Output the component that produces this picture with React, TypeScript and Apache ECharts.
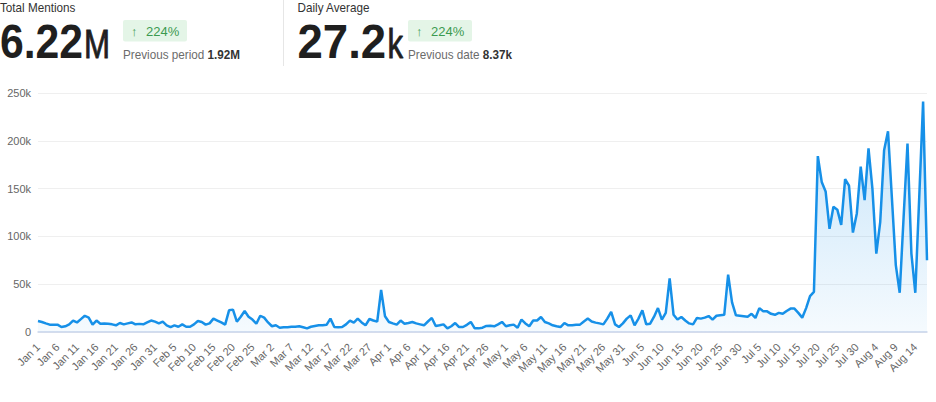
import React, { useEffect, useRef } from "react";
import * as echarts from "echarts";

// Daily mentions, Jan 1 → Aug 17
const mentions: number[] = [
  11500, 10500, 9000, 7700, 7500, 7700, 5200, 6000, 8000, 12000,
  10000, 13500, 17000, 15000, 7700, 12000, 8700, 9000, 8700, 8000,
  7000, 9400, 8000, 9000, 10000, 8000, 8500, 8000, 10000, 12000,
  10800, 9000, 10800, 7000, 5200, 7000, 5500, 8000, 5500, 5500,
  8000, 11500, 10500, 7700, 9000, 14000, 12000, 10000, 7700, 22700,
  23400, 10800, 16000, 22000, 16000, 13000, 8700, 17000, 15000, 10000,
  6000, 7000, 4500, 5000, 5000, 5500, 5500, 6000, 5000, 3800,
  5500, 6300, 7000, 7000, 7500, 14000, 5200, 5000, 5200, 8000,
  12000, 9800, 14000, 10000, 7000, 13600, 12000, 10800, 44000, 16400,
  10500, 9000, 7700, 12000, 8700, 9500, 10500, 9000, 8000, 7000,
  11000, 14700, 6300, 7000, 8000, 3800, 6000, 9400, 5200, 5200,
  7500, 10500, 3800, 3800, 4500, 6300, 6500, 6000, 8000, 10500,
  6000, 7000, 7700, 4500, 13000, 9000, 6000, 12000, 12000, 15700,
  10500, 9000, 7000, 6000, 5200, 9400, 7000, 7000, 7500, 7700,
  11000, 14000, 11000, 9800, 9000, 8000, 14000, 21000, 8000, 5200,
  9000, 14000, 17400, 7000, 14000, 22700, 8000, 8700, 16000, 25000,
  13000, 20000, 56000, 18000, 13000, 15700, 12000, 9000, 8000, 14700,
  14000, 15000, 16700, 13000, 17000, 17500, 18000, 60000, 31000, 17500,
  17000, 16500, 16000, 19000, 14700, 25000, 21600, 21600, 19000, 18000,
  20000, 19000, 22000, 24500, 24500, 20000, 15000, 25000, 37600, 42000,
  184000, 157000, 147000, 108000, 131000, 128000, 112000, 160000, 153000, 104000,
  124000, 173000, 138000, 192000, 150000, 82000, 115000, 190000, 210000, 140000,
  70000, 41000, 120000, 197000, 82000, 41000, 140000, 241000, 75000,
];

const monthNames = ["Jan", "Feb", "Mar", "Apr", "May", "Jun", "Jul", "Aug"];
const monthLengths = [31, 28, 31, 30, 31, 30, 31, 31];

const yTicks = { min: 0, max: 250000, step: 50000 };

const kpiTotal = { label: "Total Mentions", value: "6.22", unit: "M", change: "224%", prevLabel: "Previous period", prev: "1.92M" };
const kpiDaily = { label: "Daily Average", value: "27.2", unit: "k", change: "224%", prevLabel: "Previous date", prev: "8.37k" };

function buildCategories(n: number): string[] {
  const out: string[] = [];
  let m = 0;
  let d = 1;
  for (let i = 0; i < n; i++) {
    out.push(`${monthNames[m]} ${d}`);
    d++;
    if (d > monthLengths[m]) {
      d = 1;
      m++;
    }
  }
  return out;
}

const FONT = '"Liberation Sans", Arial, Helvetica, sans-serif';

function kpiGraphics(k: typeof kpiTotal, x0: number, valueScale: number, badgeX: number) {
  return [
    {
      type: "text",
      x: x0,
      y: 8,
      scaleX: 0.9,
      style: { text: k.label, font: `13px ${FONT}`, fill: "#333", verticalAlign: "middle" },
    },
    {
      type: "text",
      x: x0,
      y: 42,
      scaleX: valueScale,
      style: { text: k.value, font: `bold 48px ${FONT}`, fill: "#1f1f1f", verticalAlign: "middle" },
    },
    {
      type: "rect",
      shape: { x: 0, y: 0, width: 64, height: 21.5, r: 2 },
      x: badgeX,
      y: 20,
      style: { fill: "#e4f5e7" },
    },
    {
      type: "text",
      x: badgeX + 8,
      y: 31,
      style: { text: "↑", font: `13px ${FONT}`, fill: "#3c9a50", verticalAlign: "middle" },
    },
    {
      type: "text",
      x: badgeX + 23,
      y: 31,
      style: { text: k.change, font: `13px ${FONT}`, fill: "#3c9a50", verticalAlign: "middle" },
    },
    {
      type: "text",
      x: badgeX,
      y: 54.5,
      scaleX: 0.9,
      style: {
        text: `{a|${k.prevLabel} }{b|${k.prev}}`,
        verticalAlign: "middle",
        rich: {
          a: { font: `13px ${FONT}`, fill: "#6b6b6b" },
          b: { font: `bold 13px ${FONT}`, fill: "#333" },
        },
      },
    },
  ];
}

function unitText(text: string, x: number) {
  return {
    type: "text",
    x,
    y: 45,
    scaleX: 0.78,
    style: {
      text,
      font: `40px ${FONT}`,
      fill: "#1f1f1f",
      stroke: "#1f1f1f",
      lineWidth: 0.9,
      verticalAlign: "middle",
    },
  };
}

export default function App() {
  const ref = useRef<HTMLDivElement>(null);

  useEffect(() => {
    if (!ref.current) return;
    const chart = echarts.init(ref.current, null, { renderer: "svg" });
    const categories = buildCategories(mentions.length);

    const option = {
      animation: false,
      grid: { left: 38, right: 9, top: 93, bottom: 70, containLabel: false },
      xAxis: {
        type: "category",
        data: categories,
        boundaryGap: false,
        axisLine: { lineStyle: { color: "#ccd6eb", width: 1.5 } },
        axisTick: { show: false },
        splitLine: { show: false },
        axisLabel: {
          interval: 4,
          rotate: 45,
          color: "#666",
          fontSize: 11,
          fontFamily: FONT,
          margin: 13,
        },
      },
      yAxis: {
        type: "value",
        min: yTicks.min,
        max: yTicks.max,
        interval: yTicks.step,
        axisLine: { show: false },
        axisTick: { show: false },
        splitLine: { lineStyle: { color: "#efefef", width: 1 } },
        axisLabel: {
          color: "#666",
          fontSize: 11,
          fontFamily: FONT,
          margin: 7,
          formatter: (v: number) => (v === 0 ? "0" : `${v / 1000}k`),
        },
      },
      series: [
        {
          type: "line",
          data: mentions,
          symbol: "none",
          smooth: false,
          lineStyle: { color: "#1690e8", width: 2.5 },
          itemStyle: { color: "#1690e8" },
          areaStyle: {
            color: new echarts.graphic.LinearGradient(0, 0, 0, 1, [
              { offset: 0, color: "rgba(22,144,232,0.36)" },
              { offset: 1, color: "rgba(22,144,232,0.06)" },
            ]),
          },
        },
      ],
      graphic: [
        ...kpiGraphics(kpiTotal, 0, 0.89, 123),
        unitText(kpiTotal.unit, 84),
        {
          type: "line",
          shape: { x1: 283.5, y1: 0, x2: 283.5, y2: 66 },
          style: { stroke: "#e6e6e6", lineWidth: 1 },
        },
        ...kpiGraphics(kpiDaily, 297.5, 0.95, 408),
        unitText(kpiDaily.unit, 387.5),
      ],
    };

    chart.setOption(option as any);
    return () => chart.dispose();
  }, []);

  return (
    <div
      ref={ref}
      style={{ position: "fixed", left: 0, top: 0, width: 936, height: 402, background: "#fff" }}
    />
  );
}
